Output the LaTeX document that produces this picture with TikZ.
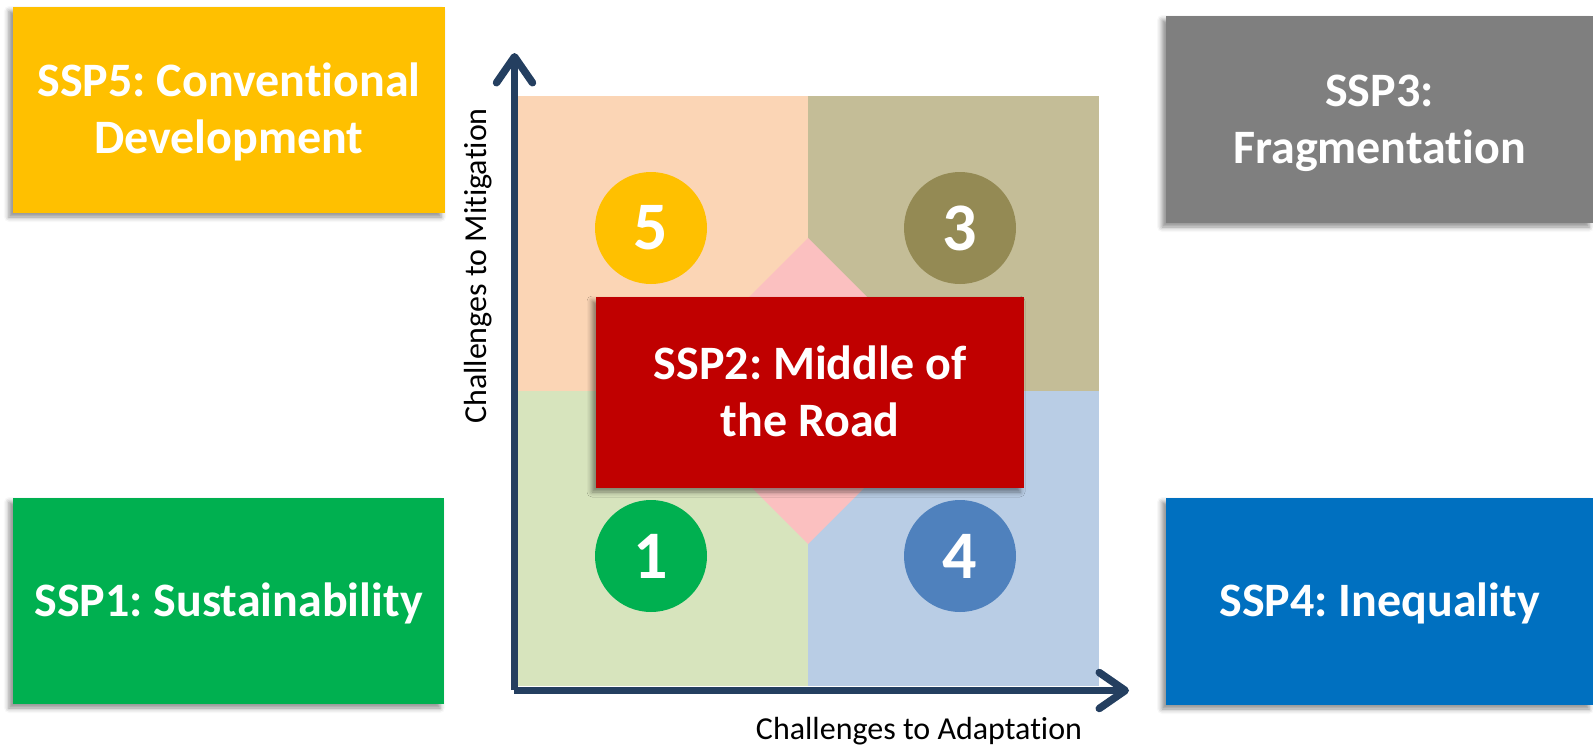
\documentclass[tikz,border=0pt]{standalone}
\usepackage{fontspec}
\setmainfont{Carlito}[Ligatures=NoCommon]
\usetikzlibrary{arrows.meta,shadows.blur}

\definecolor{sspfive}{HTML}{FFC000}
\definecolor{sspthree}{HTML}{7F7F7F}
\definecolor{sspone}{HTML}{00B050}
\definecolor{sspfour}{HTML}{0070C0}
\definecolor{ssptwo}{HTML}{C00000}
\definecolor{quadTL}{HTML}{FBD5B5}
\definecolor{quadTR}{HTML}{C4BD97}
\definecolor{quadBL}{HTML}{D7E4BD}
\definecolor{quadBR}{HTML}{B9CDE5}
\definecolor{middle}{HTML}{FBC0C0}
\definecolor{dotthree}{HTML}{948A54}
\definecolor{dotfour}{HTML}{4F81BD}
\definecolor{axis}{HTML}{243F60}

% centred block of lines, set a little below the box centre
\newcommand\boxtext[1]{\raisebox{-4pt}[\height][\depth]{%
  \begin{tabular}{@{}c@{}}#1\end{tabular}}}

\begin{document}
\frenchspacing
\begin{tikzpicture}[x=1pt,y=-1pt,
  sspbox/.style 2 args={rectangle, fill=#1, text=white, inner sep=0pt,
    minimum width=#2,
    font=\bfseries\fontsize{48}{57}\selectfont,
    blur shadow={shadow xshift=-4pt, shadow yshift=-4pt,
      shadow blur radius=5pt, shadow opacity=45}},
  dot/.style={circle, fill=#1, text=white, inner sep=0pt, minimum size=112pt,
    font=\bfseries\fontsize{68}{68}\selectfont},
  axisline/.style={draw=axis, line width=7.5pt,
    -{Straight Barb[length=26pt, width=36pt, round]}},
  axislabel/.style={font=\fontsize{32}{32}\selectfont, text=black, inner sep=0pt}]

\useasboundingbox (0,0) rectangle (1593,747);

% quadrant background
\fill[quadTL] (518,96) rectangle (808,391);
\fill[quadTR] (808,96) rectangle (1099,391);
\fill[quadBL] (518,391) rectangle (808,686);
\fill[quadBR] (808,391) rectangle (1099,686);
\fill[middle] (808,238) -- (961,391) -- (808,544) -- (655,391) -- cycle;

% numbered markers
\node[dot=sspfive]  (d5) at (651,228) {5};
\node[dot=dotthree] (d3) at (960,228) {3};
\node[dot=sspone]   (d1) at (651,556) {1};
\node[dot=dotfour]  (d4) at (960,556) {4};

% axes
\coordinate (vbase) at (514.5,690);
\coordinate (vtip)  at (514.5,53);
\coordinate (hbase) at (514,690.5);
\coordinate (htip)  at (1129,690.5);
\draw[axisline] (vbase) -- (vtip);
\draw[axisline] (hbase) -- (htip);

\node[axislabel] (xlab) at (919,731) {Challenges to Adaptation};
\node[axislabel, rotate=90] (ylab) at (478,266) {Challenges to Mitigation};

% scenario boxes
\node[sspbox={sspfive}{432pt}, minimum height=206pt] (s5) at (229,110)
  {\boxtext{SSP5: Conventional\\Development}};
\node[sspbox={sspthree}{427pt}, minimum height=207pt] (s3) at (1379.5,119.5)
  {\boxtext{SSP3:\\Fragmentation}};
\node[sspbox={sspone}{431pt}, minimum height=206pt] (s1) at (228.5,601)
  {\boxtext{SSP1: Sustainability}};
\node[sspbox={sspfour}{427pt}, minimum height=207pt] (s4) at (1379.5,601.5)
  {\boxtext{SSP4: Inequality}};
\node[sspbox={ssptwo}{428pt}, minimum height=191pt] (s2) at (810,392.5)
  {\boxtext{SSP2: Middle of\\the Road}};
\end{tikzpicture}
\end{document}
